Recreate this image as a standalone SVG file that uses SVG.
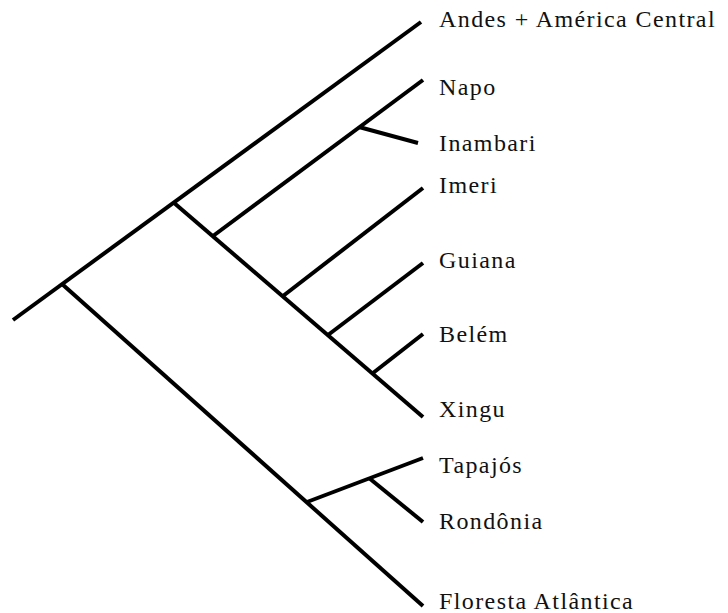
<svg xmlns="http://www.w3.org/2000/svg" width="728" height="613" viewBox="0 0 728 613">
  <style>
    .br { stroke: #000; stroke-width: 4; fill: none; stroke-linecap: butt; }
    .lb { font-size: 24px; letter-spacing: 1.4px; fill: #111; }
  </style>
  <rect width="728" height="613" fill="#fff"/>
  <!-- tree branches -->
  <g id="connectors">
    <!-- root stem to Andes + América Central -->
    <line class="br" x1="13" y1="320" x2="421" y2="22"/>
    <!-- Amazonian clade stem, ending at Xingu -->
    <line class="br" x1="173" y1="202" x2="423" y2="417"/>
    <!-- Napo / Inambari -->
    <line class="br" x1="213" y1="236" x2="423" y2="80"/>
    <line class="br" x1="359" y1="127" x2="418" y2="143"/>
    <!-- Imeri, Guiana, Belém -->
    <line class="br" x1="283" y1="296" x2="423" y2="188"/>
    <line class="br" x1="328" y1="335" x2="423" y2="263"/>
    <line class="br" x1="373" y1="373" x2="423" y2="334"/>
    <!-- southern clade stem, ending at Floresta Atlântica -->
    <line class="br" x1="62" y1="284" x2="423" y2="606"/>
    <!-- Tapajós / Rondônia -->
    <line class="br" x1="307" y1="502" x2="423" y2="458"/>
    <line class="br" x1="369" y1="478" x2="423" y2="522"/>
  </g>
  <!-- area labels -->
  <g font-family="'Liberation Serif', 'Times New Roman', 'DejaVu Serif', serif">
    <g id="andes"><text class="lb" x="439" y="27">Andes + América Central</text></g>
    <g id="napo"><text class="lb" x="439" y="95">Napo</text></g>
    <g id="inambari"><text class="lb" x="439" y="151">Inambari</text></g>
    <g id="imeri"><text class="lb" x="439" y="193">Imeri</text></g>
    <g id="guiana"><text class="lb" x="439" y="268">Guiana</text></g>
    <g id="belem"><text class="lb" x="439" y="342">Belém</text></g>
    <g id="xingu"><text class="lb" x="439" y="417">Xingu</text></g>
    <g id="tapajos"><text class="lb" x="439" y="473">Tapajós</text></g>
    <g id="rondonia"><text class="lb" x="439" y="529">Rondônia</text></g>
    <g id="floresta"><text class="lb" x="439" y="609">Floresta Atlântica</text></g>
  </g>
</svg>
